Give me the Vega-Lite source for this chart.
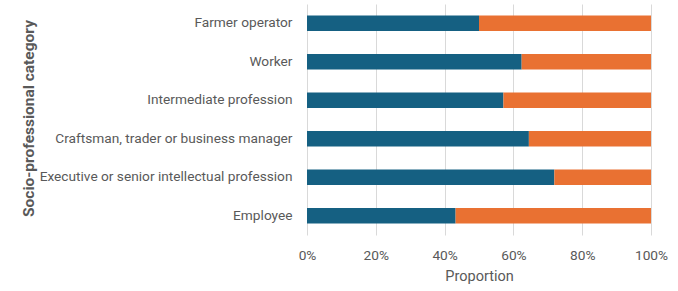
{
  "$schema": "https://vega.github.io/schema/vega-lite/v6.json",
  "autosize": {"type": "none"},
  "padding": {"left": 307, "top": 4, "right": 27, "bottom": 56},
  "width": 344,
  "height": 231,
  "background": "white",
  "config": {
    "font": "Roboto",
    "view": {"stroke": null}
  },
  "data": {
    "values": [
      {"category": "Farmer operator", "group": "Share A", "order": 1, "value": 0.50},
      {"category": "Farmer operator", "group": "Share B", "order": 2, "value": 0.50},
      {"category": "Worker", "group": "Share A", "order": 1, "value": 0.624},
      {"category": "Worker", "group": "Share B", "order": 2, "value": 0.376},
      {"category": "Intermediate profession", "group": "Share A", "order": 1, "value": 0.571},
      {"category": "Intermediate profession", "group": "Share B", "order": 2, "value": 0.429},
      {"category": "Craftsman, trader or business manager", "group": "Share A", "order": 1, "value": 0.645},
      {"category": "Craftsman, trader or business manager", "group": "Share B", "order": 2, "value": 0.355},
      {"category": "Executive or senior intellectual profession", "group": "Share A", "order": 1, "value": 0.719},
      {"category": "Executive or senior intellectual profession", "group": "Share B", "order": 2, "value": 0.281},
      {"category": "Employee", "group": "Share A", "order": 1, "value": 0.432},
      {"category": "Employee", "group": "Share B", "order": 2, "value": 0.568}
    ]
  },
  "mark": {"type": "bar"},
  "encoding": {
    "y": {
      "field": "category",
      "type": "nominal",
      "sort": ["Farmer operator", "Worker", "Intermediate profession", "Craftsman, trader or business manager", "Executive or senior intellectual profession", "Employee"],
      "scale": {"paddingInner": 0.6, "paddingOuter": 0.3},
      "axis": {
        "title": "Socio-professional category",
        "titleFontSize": 15.5,
        "titleFontWeight": "bold",
        "titleColor": "#595959",
        "titleX": -279,
        "titleY": 114,
        "titleBaseline": "middle",
        "labelFontSize": 13.7,
        "labelColor": "#595959",
        "labelPadding": 15,
        "labelLimit": 400,
        "ticks": false,
        "domain": false,
        "grid": false
      }
    },
    "x": {
      "field": "value",
      "type": "quantitative",
      "stack": "normalize",
      "scale": {"domain": [0, 1], "nice": false},
      "axis": {
        "title": "Proportion",
        "titleFontSize": 14.5,
        "titleFontWeight": "normal",
        "titleColor": "#595959",
        "titlePadding": 8,
        "format": ".0%",
        "values": [0, 0.2, 0.4, 0.6, 0.8, 1],
        "labelFontSize": 13.7,
        "labelColor": "#595959",
        "labelPadding": 13,
        "labelFlush": false,
        "grid": true,
        "gridColor": "#d9d9d9",
        "gridWidth": 1,
        "ticks": false,
        "domain": false
      }
    },
    "color": {
      "field": "group",
      "type": "nominal",
      "scale": {"domain": ["Share A", "Share B"], "range": ["#156082", "#E97132"]},
      "legend": null
    },
    "order": {"field": "order", "type": "quantitative"}
  }
}
